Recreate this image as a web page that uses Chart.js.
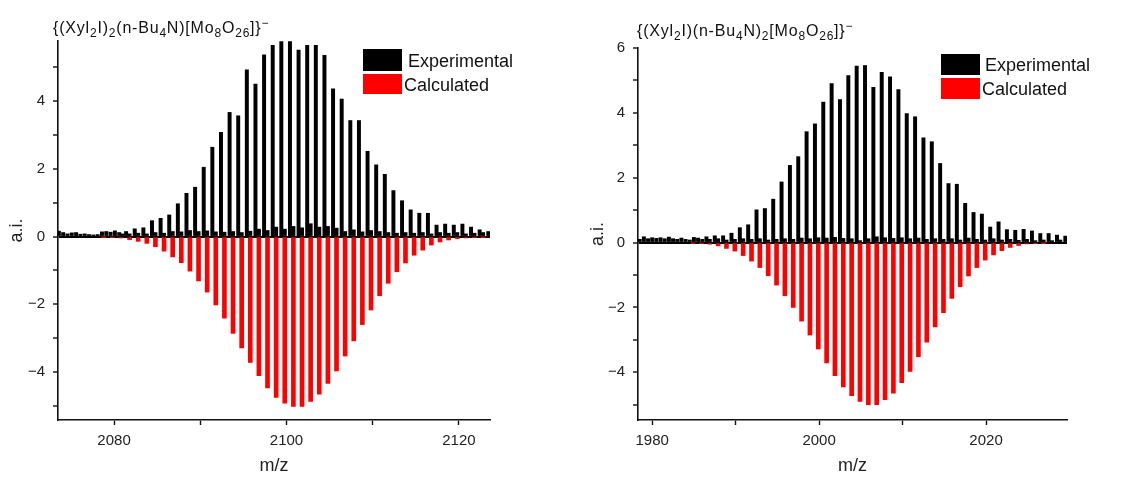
<!DOCTYPE html>
<html>
<head>
<meta charset="utf-8">
<script src="https://cdn.jsdelivr.net/npm/chart.js@4.4.1/dist/chart.umd.min.js"></script>
<style>
  html, body { margin: 0; padding: 0; background: #fff; }
  #wrap { position: relative; width: 1136px; height: 477px; overflow: hidden; }
  canvas { position: absolute; top: 0; }
  .ttl { position: absolute; font-family: 'Liberation Sans', Arial, sans-serif; font-size: 16px; line-height: 16px; letter-spacing: 0.8px; color: #111; white-space: nowrap; }
  .ttl sub { font-size: 12px; vertical-align: -4px; line-height: 0; }
  .ttl sup { font-size: 12px; vertical-align: 6px; line-height: 0; }
</style>
</head>
<body>
<div id="wrap">
  <canvas id="left" width="568" height="477" style="left:0"></canvas>
  <canvas id="right" width="568" height="477" style="left:568px"></canvas>
  <div class="ttl" style="left:53px;top:20px">{(Xyl<sub>2</sub>I)<sub>2</sub>(n-Bu<sub>4</sub>N)[Mo<sub>8</sub>O<sub>26</sub>]}<sup>&minus;</sup></div>
  <div class="ttl" style="left:637px;top:23px">{(Xyl<sub>2</sub>I)(n-Bu<sub>4</sub>N)<sub>2</sub>[Mo<sub>8</sub>O<sub>26</sub>]}<sup>&minus;</sup></div>
</div>
<script>
// ---- left panel: {(Xyl2I)2(n-Bu4N)[Mo8O26]}- ----
const leftPeakMz = [2081.4, 2082.4, 2083.4, 2084.4, 2085.4, 2086.4, 2087.4, 2088.4, 2089.4, 2090.4,
  2091.4, 2092.4, 2093.4, 2094.4, 2095.4, 2096.4, 2097.4, 2098.4, 2099.4, 2100.4,
  2101.4, 2102.4, 2103.4, 2104.4, 2105.4, 2106.4, 2107.4, 2108.4, 2109.4, 2110.4,
  2111.4, 2112.4, 2113.4, 2114.4, 2115.4, 2116.4, 2117.4, 2118.4, 2119.4, 2120.4,
  2121.4, 2122.4, 2123.4];
const leftPeakInt = [0.15, 0.23, 0.26, 0.47, 0.54, 0.64, 0.97, 1.28, 1.46, 2.05,
  2.64, 3.08, 3.67, 3.57, 4.93, 4.51, 5.37, 5.65, 5.76, 5.76,
  5.51, 5.65, 5.65, 5.36, 4.37, 4.06, 3.43, 3.43, 2.52, 2.12,
  1.84, 1.36, 1.06, 0.79, 0.69, 0.69, 0.34, 0.37, 0.34, 0.37,
  0.28, 0.20, 0.15];
const leftNoiseMz = [2073.6, 2074.1, 2074.6, 2075.1, 2075.6, 2076.1, 2076.6, 2077.1, 2077.6, 2078.1,
  2078.6, 2079.1, 2079.6, 2080.1, 2080.6, 2081.0,
  2081.8, 2082.8, 2083.8, 2084.8, 2085.8, 2086.8, 2087.8, 2088.8, 2089.8, 2090.8,
  2091.8, 2092.8, 2093.8, 2094.8, 2095.8, 2096.8, 2097.8, 2098.8, 2099.8, 2100.8,
  2101.8, 2102.8, 2103.8, 2104.8, 2105.8, 2106.8, 2107.8, 2108.8, 2109.8, 2110.8,
  2111.8, 2112.8, 2113.8, 2114.8, 2115.8, 2116.8, 2117.8, 2118.8, 2119.8, 2120.8,
  2121.8, 2122.8];
const leftNoiseInt = [0.16, 0.12, 0.08, 0.11, 0.12, 0.07, 0.08, 0.06, 0.05, 0.06,
  0.14, 0.15, 0.13, 0.17, 0.12, 0.08,
  0.08, 0.10, 0.08, 0.12, 0.10, 0.15, 0.14, 0.18, 0.15, 0.17,
  0.14, 0.13, 0.15, 0.12, 0.16, 0.22, 0.18, 0.28, 0.22, 0.30,
  0.26, 0.38, 0.28, 0.30, 0.25, 0.15, 0.20, 0.14, 0.18, 0.15,
  0.12, 0.10, 0.12, 0.10, 0.12, 0.08, 0.12, 0.10, 0.12, 0.08,
  0.10, 0.12];
const leftCalcMz = [2078.8, 2079.8, 2080.8, 2081.8, 2082.8, 2083.8, 2084.8, 2085.8, 2086.8, 2087.8,
  2088.8, 2089.8, 2090.8, 2091.8, 2092.8, 2093.8, 2094.8, 2095.8, 2096.8, 2097.8,
  2098.8, 2099.8, 2100.8, 2101.8, 2102.8, 2103.8, 2104.8, 2105.8, 2106.8, 2107.8,
  2108.8, 2109.8, 2110.8, 2111.8, 2112.8, 2113.8, 2114.8, 2115.8, 2116.8, 2117.8,
  2118.8, 2119.8, 2120.8, 2121.8, 2122.8];
const leftCalcInt = [-0.01, -0.02, -0.04, -0.09, -0.14, -0.20, -0.30, -0.43, -0.60, -0.77,
  -1.02, -1.31, -1.64, -2.02, -2.41, -2.86, -3.29, -3.72, -4.11, -4.47,
  -4.75, -4.92, -5.02, -5.02, -4.87, -4.66, -4.34, -3.97, -3.53, -3.08,
  -2.60, -2.17, -1.75, -1.38, -1.04, -0.78, -0.55, -0.40, -0.25, -0.16,
  -0.10, -0.06, -0.04, -0.02, -0.01];
const leftXTicks = [2080, 2090, 2100, 2110, 2120];
const leftYTicks = [-5, -4, -3, -2, -1, 0, 1, 2, 3, 4, 5];

// ---- right panel: {(Xyl2I)(n-Bu4N)2[Mo8O26]}- ----
const rightPeakMz = [1986.5, 1987.5, 1988.5, 1989.5, 1990.5, 1991.5, 1992.5, 1993.5, 1994.5, 1995.5,
  1996.5, 1997.5, 1998.5, 1999.5, 2000.5, 2001.5, 2002.5, 2003.5, 2004.5, 2005.5,
  2006.5, 2007.5, 2008.5, 2009.5, 2010.5, 2011.5, 2012.5, 2013.5, 2014.5, 2015.5,
  2016.5, 2017.5, 2018.5, 2019.5, 2020.5, 2021.5, 2022.5, 2023.5, 2024.5, 2025.5,
  2026.5, 2027.5, 2028.5, 2029.5];
const rightPeakInt = [0.18, 0.21, 0.21, 0.29, 0.46, 0.55, 1.01, 1.05, 1.34, 1.87,
  2.38, 2.65, 3.42, 3.66, 4.33, 4.90, 4.41, 5.15, 5.44, 5.46,
  4.79, 5.25, 5.11, 4.72, 3.98, 3.88, 3.23, 3.11, 2.44, 1.82,
  1.80, 1.21, 0.93, 0.88, 0.48, 0.64, 0.40, 0.38, 0.41, 0.36,
  0.28, 0.28, 0.23, 0.20];
const rightNoiseMz = [1978.5, 1979.0, 1979.5, 1980.0, 1980.5, 1981.0, 1981.5, 1982.0, 1982.5, 1983.0,
  1983.5, 1984.0, 1984.5, 1985.0, 1985.5, 1986.0,
  1986.9, 1987.9, 1988.9, 1989.9, 1990.9, 1991.9, 1992.9, 1993.9, 1994.9, 1995.9,
  1996.9, 1997.9, 1998.9, 1999.9, 2000.9, 2001.9, 2002.9, 2003.9, 2004.9, 2005.9,
  2006.9, 2007.9, 2008.9, 2009.9, 2010.9, 2011.9, 2012.9, 2013.9, 2014.9, 2015.9,
  2016.9, 2017.9, 2018.9, 2019.9, 2020.9, 2021.9, 2022.9, 2023.9, 2024.9, 2025.9,
  2026.9, 2027.9, 2028.9];
const rightNoiseInt = [0.10, 0.18, 0.12, 0.15, 0.13, 0.15, 0.12, 0.17, 0.12, 0.10,
  0.14, 0.10, 0.08, 0.16, 0.14, 0.10,
  0.10, 0.12, 0.08, 0.10, 0.12, 0.10, 0.12, 0.08, 0.10, 0.12,
  0.10, 0.14, 0.12, 0.15, 0.14, 0.16, 0.13, 0.12, 0.06, 0.12,
  0.18, 0.15, 0.13, 0.15, 0.12, 0.14, 0.10, 0.12, 0.10, 0.12,
  0.08, 0.14, 0.10, 0.08, 0.12, 0.08, 0.10, 0.07, 0.10, 0.06,
  0.08, 0.06, 0.08];
const rightCalcMz = [1984.9, 1985.9, 1986.9, 1987.9, 1988.9, 1989.9, 1990.9, 1991.9, 1992.9, 1993.9,
  1994.9, 1995.9, 1996.9, 1997.9, 1998.9, 1999.9, 2000.9, 2001.9, 2002.9, 2003.9,
  2004.9, 2005.9, 2006.9, 2007.9, 2008.9, 2009.9, 2010.9, 2011.9, 2012.9, 2013.9,
  2014.9, 2015.9, 2016.9, 2017.9, 2018.9, 2019.9, 2020.9, 2021.9, 2022.9, 2023.9,
  2024.9, 2025.9, 2026.9];
const rightCalcInt = [-0.01, -0.02, -0.05, -0.10, -0.18, -0.26, -0.40, -0.57, -0.77, -1.02,
  -1.31, -1.64, -2.00, -2.42, -2.85, -3.28, -3.71, -4.10, -4.45, -4.72,
  -4.90, -5.00, -5.00, -4.84, -4.64, -4.32, -3.97, -3.52, -3.07, -2.60,
  -2.16, -1.72, -1.36, -1.03, -0.77, -0.54, -0.38, -0.25, -0.15, -0.09,
  -0.04, -0.02, -0.01];
const rightXTicks = [1980, 1990, 2000, 2010, 2020];
const rightYTicks = [-5, -4, -3, -2, -1, 0, 1, 2, 3, 4, 5, 6];

const seriesLabels = ['Experimental', 'Calculated'];

const FONT = "'Liberation Sans', Arial, sans-serif";
Chart.defaults.font.family = FONT;

// legend drawn inside the plot, Origin style
const boxLegend = {
  id: 'boxLegend',
  afterDraw(chart, args, opts) {
    const { ctx, chartArea } = chart;
    const x0 = chartArea.right - opts.fromRight;
    let y = chartArea.top + opts.fromTop;
    ctx.save();
    ctx.font = '18px ' + FONT;
    ctx.textBaseline = 'alphabetic';
    chart.data.datasets.forEach((ds, i) => {
      const h = opts.rowHeights[i];
      ctx.fillStyle = ds.backgroundColor;
      ctx.fillRect(x0, y, opts.boxWidth, h);
      ctx.fillStyle = '#111';
      ctx.fillText(ds.label, x0 + opts.boxWidth + opts.textGaps[i], y + h / 2 + 6.5);
      y += h + opts.rowGap;
    });
    ctx.restore();
  }
};

const toPoints = (xs, ys) => xs.map((x, i) => ({ x: x, y: ys[i] }));
const fmtY = v => (v % 2 === 0 ? (v < 0 ? '\u2212' + Math.abs(v) : String(v)) : '');

function makeChart(id, p) {
  const expPts = toPoints(p.peakMz, p.peakInt).concat(toPoints(p.noiseMz, p.noiseInt));
  return new Chart(document.getElementById(id), {
    type: 'bar',
    data: {
      datasets: [
        { label: seriesLabels[0], data: expPts, backgroundColor: '#000', barThickness: 3.3, grouped: false },
        { label: seriesLabels[1], data: toPoints(p.calcMz, p.calcInt), backgroundColor: '#ff0000', barThickness: 4, grouped: false }
      ]
    },
    options: {
      responsive: false,
      animation: false,
      layout: { padding: { left: 0, right: p.padRight, top: p.padTop, bottom: 0 } },
      plugins: {
        legend: { display: false },
        tooltip: { enabled: false },
        boxLegend: p.legend
      },
      scales: {
        x: {
          type: 'linear',
          min: p.xMin, max: p.xMax,
          offset: false,
          afterFit: s => { s.height = 57; },
          afterBuildTicks: s => { s.ticks = p.xTicks.map(v => ({ value: v })); },
          grid: { drawOnChartArea: false, offset: false, tickLength: 5, tickColor: '#111', tickWidth: 1.4 },
          border: { color: '#111', width: 1.6 },
          ticks: { autoSkip: false, maxRotation: 0, padding: 7, color: '#222', font: { size: 15 },
            callback: v => (v % 20 === 0 ? String(v) : '') },
          title: { display: true, text: 'm/z', color: '#222', font: { size: 18 }, padding: { top: 0, bottom: 0 } }
        },
        y: {
          min: p.yMin, max: p.yMax,
          afterFit: s => { s.width = p.yWidth; },
          afterBuildTicks: s => { s.ticks = p.yTicks.map(v => ({ value: v })); },
          grid: {
            color: c => (c.tick && c.tick.value === 0 ? '#000' : 'rgba(0,0,0,0)'),
            lineWidth: 2,
            tickLength: 5, tickColor: '#111', tickWidth: 1.4
          },
          border: { color: '#111', width: 1.6 },
          ticks: { autoSkip: false, padding: 8, color: '#222', font: { size: 15 }, callback: fmtY },
          title: { display: true, text: 'a.i.', color: '#222', font: { size: 18 }, padding: { top: p.yTitlePad, bottom: 0 } }
        }
      }
    },
    plugins: [boxLegend]
  });
}

makeChart('left', {
  peakMz: leftPeakMz, peakInt: leftPeakInt, noiseMz: leftNoiseMz, noiseInt: leftNoiseInt,
  calcMz: leftCalcMz, calcInt: leftCalcInt, xTicks: leftXTicks, yTicks: leftYTicks,
  xMin: 2073.5, xMax: 2123.6, yMin: -5.42, yMax: 5.78,
  yWidth: 58, padRight: 78, padTop: 41, yTitlePad: 6,
  legend: { fromRight: 127, fromTop: 8, boxWidth: 39, rowHeights: [22, 20], rowGap: 3, textGaps: [6, 2] }
});

makeChart('right', {
  peakMz: rightPeakMz, peakInt: rightPeakInt, noiseMz: rightNoiseMz, noiseInt: rightNoiseInt,
  calcMz: rightCalcMz, calcInt: rightCalcInt, xTicks: rightXTicks, yTicks: rightYTicks,
  xMin: 1978.3, xMax: 2029.7, yMin: -5.47, yMax: 6,
  yWidth: 70, padRight: 69, padTop: 48, yTitlePad: 19,
  legend: { fromRight: 126, fromTop: 6, boxWidth: 39, rowHeights: [21, 21], rowGap: 3, textGaps: [5, 2] }
});
</script>
</body>
</html>
